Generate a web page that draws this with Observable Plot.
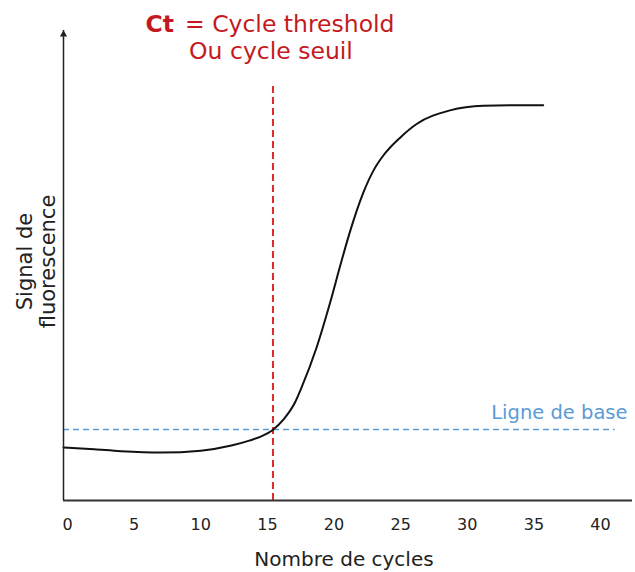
<!DOCTYPE html>
<html><head><meta charset="utf-8">
<script src="https://cdn.jsdelivr.net/npm/d3@7"></script>
<script src="https://cdn.jsdelivr.net/npm/@observablehq/plot@0.6"></script>
<style>body{margin:0;background:#fff} #chart svg{display:block}</style>
</head><body><div id="chart"></div>
<script>
// amplification curve (cycle number, fluorescence signal in arbitrary units)
const cycles = [-0.3, 2, 4, 7, 10, 12.3, 13.7, 14.5, 15.4, 16.2, 17.1, 17.5, 18.7, 19.7, 20.5, 21.2, 22.2, 23.0, 23.7, 25.0, 26.2, 28.7, 31.2, 33.5, 35.7];
const signal = [11.3, 10.9, 10.5, 10.2, 10.6, 11.7, 12.8, 13.6, 15.0, 17.2, 21.0, 23.6, 32.6, 42.0, 50.3, 57.2, 65.5, 70.4, 73.4, 77.3, 80.1, 83.0, 84.0, 84.1, 84.1];
const xTicks = [0, 5, 10, 15, 20, 25, 30, 35, 40];
const xDomain = [-0.3, 42.4];
const yDomain = [0, 100];
const ctCycle = [15.42];
const ctTop = [88.3];
const baselineLevel = [15.1];
const baselineSpan = [-0.3, 41.1];
const titleBold = ["Ct"];
const titleRest = ["= Cycle threshold"];
const titleLine2 = ["Ou cycle seuil"];
const baselineLabel = ["Ligne de base"];
const xLabel = ["Nombre de cycles"];
const yLabel = ["Signal de\nfluorescence"];

const curve = cycles.map((c, i) => ({cycle: c, signal: signal[i]}));
const red = "#dd2a2a", blue = "#5b9bd5", titleRed = "#c41a1f", ink = "#222";

const plot = Plot.plot({
  width: 635, height: 572,
  marginTop: 30, marginRight: 3, marginBottom: 72, marginLeft: 63,
  style: {fontFamily: "'DejaVu Sans', Verdana, sans-serif", fontSize: "16px", color: ink, background: "#fff", overflow: "visible"},
  x: {domain: xDomain, ticks: xTicks, tickSize: 0, tickPadding: 18, label: null},
  y: {domain: yDomain, axis: null},
  marks: [
    Plot.ruleY(baselineLevel, {x1: baselineSpan[0], x2: baselineSpan[1], stroke: blue, strokeWidth: 1.6, strokeDasharray: "6,4"}),
    Plot.ruleX(ctCycle, {y1: 0, y2: ctTop[0], stroke: red, strokeWidth: 2, strokeDasharray: "7,4"}),
    Plot.line(curve, {x: "cycle", y: "signal", curve: "monotone-x", stroke: "#111", strokeWidth: 2}),
    Plot.ruleY([0], {stroke: "#333", strokeWidth: 2}),
    Plot.ruleX([xDomain[0]], {y1: 0, y2: yDomain[1], stroke: ink, strokeWidth: 1.5}),
    Plot.dot([{x: xDomain[0], y: yDomain[1]}], {x: "x", y: "y", symbol: "triangle", r: 2.7, fill: ink, stroke: null, dy: 4}),
    Plot.text(titleBold, {text: d => d, x: ctCycle[0], frameAnchor: "top", textAnchor: "end", lineAnchor: "bottom", dx: -99, dy: 1, fontSize: 23.5, fontWeight: "bold", fill: titleRed}),
    Plot.text(titleRest, {text: d => d, x: ctCycle[0], frameAnchor: "top", textAnchor: "start", lineAnchor: "bottom", dx: -88, dy: 1, fontSize: 23.5, fill: titleRed}),
    Plot.text(titleLine2, {text: d => d, x: ctCycle[0], frameAnchor: "top", textAnchor: "middle", lineAnchor: "bottom", dx: -2, dy: 28.5, fontSize: 23.5, fill: titleRed}),
    Plot.text(baselineLabel, {text: d => d, y: baselineLevel[0], frameAnchor: "right", textAnchor: "end", lineAnchor: "bottom", dx: -5, dy: -11, fontSize: 19.5, fill: blue}),
    Plot.text(xLabel, {text: d => d, frameAnchor: "bottom", textAnchor: "middle", lineAnchor: "bottom", dx: -4, dy: 65.5, fontSize: 20, fill: ink}),
    Plot.text(yLabel, {text: d => d, frameAnchor: "left", rotate: -90, textAnchor: "middle", lineAnchor: "middle", lineHeight: 1.1, dx: -27, dy: -4, fontSize: 21, fill: ink})
  ]
});
document.getElementById("chart").appendChild(plot);
</script>
</body></html>
